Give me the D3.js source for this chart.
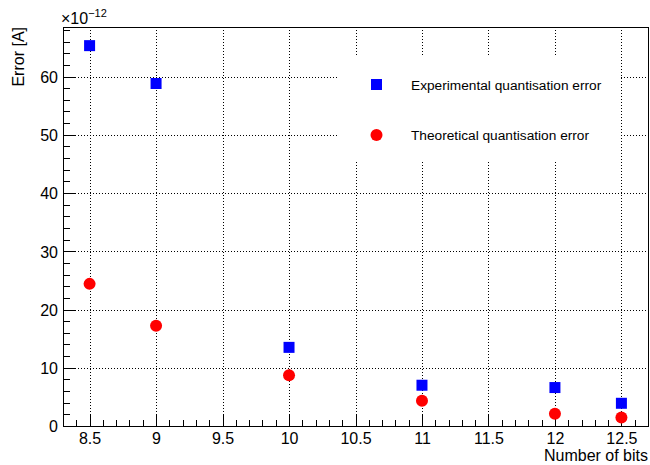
<!DOCTYPE html>
<html lang="en">
<head>
  <meta charset="utf-8">
  <title>Quantisation error</title>
  <script src="https://cdn.jsdelivr.net/npm/d3@7"></script>
  <style>
    body { margin: 0; background: #fff; }
    text { font-family: "Liberation Sans", Arial, Helvetica, sans-serif; fill: #000; }
    .grid line { stroke: #000; stroke-dasharray: 1,2; shape-rendering: crispEdges; }
    .tick line { shape-rendering: crispEdges; }
  </style>
</head>
<body>
  <script>
    // data (values in units of 1e-12 A)
    var bits = [8.5, 9, 10, 11, 12, 12.5];
    var experimental = [65.3, 58.8, 13.5, 7.0, 6.6, 3.9];
    var theoretical = [24.4, 17.2, 8.7, 4.35, 2.1, 1.45];
    var xTicks = [8.5, 9, 9.5, 10, 10.5, 11, 11.5, 12, 12.5];
    var xTickLabels = ["8.5", "9", "9.5", "10", "10.5", "11", "11.5", "12", "12.5"];
    var yTicks = [0, 10, 20, 30, 40, 50, 60];
    var legendLabels = ["Experimental quantisation error", "Theoretical quantisation error"];

    var width = 650, height = 465;
    // frame edges (plain "top" clashes with window.top)
    var padL = 63, padR = 648, padT = 27, padB = 426;

    var svg = d3.select("body").append("svg")
      .attr("width", width)
      .attr("height", height);

    var x = d3.scaleLinear().domain([8.3, 12.7]).range([padL, padR]);
    var y = d3.scaleLinear().domain([0, 68.5]).range([padB, padT]);

    // dotted grid at the major ticks
    var grid = svg.append("g").attr("class", "grid");
    grid.selectAll(".gx").data(xTicks).enter().append("line")
      .attr("x1", d => Math.round(x(d)) + 0.5).attr("x2", d => Math.round(x(d)) + 0.5)
      .attr("y1", padT).attr("y2", padB);
    grid.selectAll(".gy").data(yTicks.slice(1)).enter().append("line")
      .attr("x1", padL).attr("x2", padR)
      .attr("y1", d => Math.round(y(d)) + 0.5).attr("y2", d => Math.round(y(d)) + 0.5);

    // legend box (white, no border) sits over the grid
    svg.append("rect")
      .attr("x", 338).attr("y", 55).attr("width", 282).attr("height", 105)
      .attr("fill", "#fff");

    // axes: ticks point inward
    var xMinor = d3.range(83, 128).map(d => d / 10);
    svg.append("g")
      .attr("transform", "translate(0," + padB + ")")
      .call(d3.axisBottom(x).tickValues(xMinor).tickSize(-6).tickFormat(""))
      .call(g => g.select(".domain").remove());
    svg.append("g")
      .attr("transform", "translate(0," + padB + ")")
      .call(d3.axisBottom(x).tickValues(xTicks).tickSize(-11)
        .tickFormat((d, i) => xTickLabels[i]))
      .call(g => g.select(".domain").remove())
      .call(g => g.selectAll("text").attr("font-size", 16).attr("y", 18).attr("dy", 0));

    var yMinor = d3.range(0, 69, 2);
    svg.append("g")
      .attr("transform", "translate(" + padL + ",0)")
      .call(d3.axisLeft(y).tickValues(yMinor).tickSize(-7).tickFormat(""))
      .call(g => g.select(".domain").remove());
    svg.append("g")
      .attr("transform", "translate(" + padL + ",0)")
      .call(d3.axisLeft(y).tickValues(yTicks).tickSize(-12))
      .call(g => g.select(".domain").remove())
      .call(g => g.selectAll("text").attr("font-size", 16).attr("dy", "0.36em").attr("x", -5));

    // frame
    svg.append("rect")
      .attr("x", padL + 0.5).attr("y", padT + 0.5)
      .attr("width", padR - padL).attr("height", padB - padT)
      .attr("fill", "none").attr("stroke", "#000").attr("stroke-width", 1)
      .attr("shape-rendering", "crispEdges");

    // markers
    var pts = svg.append("g");
    pts.selectAll("rect").data(bits).enter().append("rect")
      .attr("x", (d, i) => x(d) - 5.5).attr("y", (d, i) => y(experimental[i]) - 5.5)
      .attr("width", 11).attr("height", 11)
      .attr("fill", "#0000ff");
    pts.selectAll("circle").data(bits).enter().append("circle")
      .attr("cx", (d, i) => x(d)).attr("cy", (d, i) => y(theoretical[i]))
      .attr("r", 6)
      .attr("fill", "#ff0000");

    // legend
    svg.append("rect").attr("x", 371).attr("y", 79).attr("width", 11).attr("height", 11).attr("fill", "#0000ff");
    svg.append("circle").attr("cx", 376.5).attr("cy", 135).attr("r", 6).attr("fill", "#ff0000");
    svg.append("text").attr("x", 411).attr("y", 89.5).attr("font-size", 13.7).text(legendLabels[0]);
    svg.append("text").attr("x", 411).attr("y", 139.5).attr("font-size", 13.7).text(legendLabels[1]);

    // titles
    svg.append("text")
      .attr("transform", "translate(24," + padT + ") rotate(-90)")
      .attr("text-anchor", "end")
      .attr("font-size", 16)
      .text("Error [A]");
    svg.append("text")
      .attr("x", padR).attr("y", 461)
      .attr("text-anchor", "end")
      .attr("font-size", 16)
      .text("Number of bits");

    var expo = svg.append("text").attr("x", 61).attr("y", 24).attr("font-size", 16);
    expo.append("tspan").text("\u00d710");
    expo.append("tspan").attr("dy", -7).attr("font-size", 11).text("\u221212");
  </script>
</body>
</html>
